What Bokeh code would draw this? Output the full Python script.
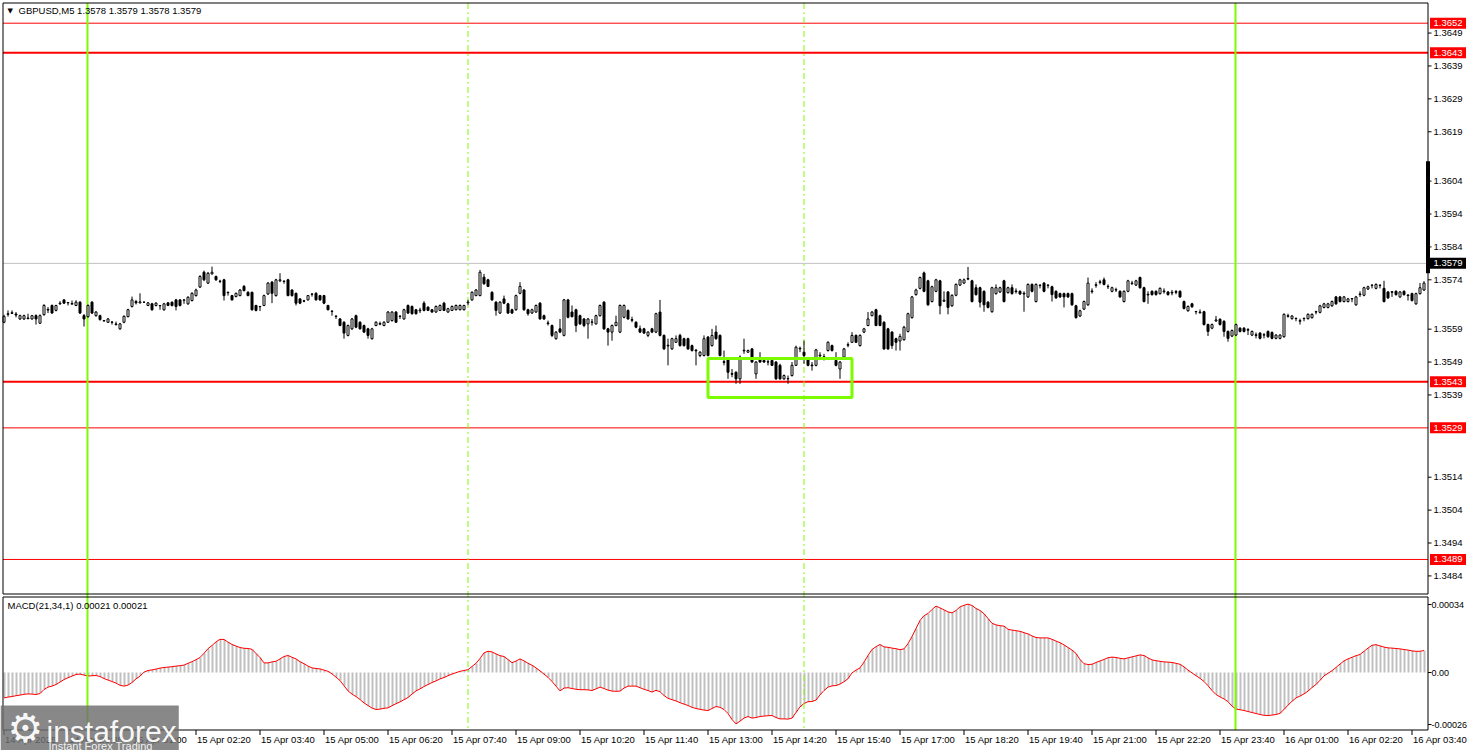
from bokeh.plotting import figure
from bokeh.models import Range1d, Label, ColumnDataSource
from bokeh.core.properties import value
from bokeh.embed import file_html
from bokeh.resources import INLINE

# ---------------- data (prices in pips above 1.3500) ----------------
BASE = 1.35
PIP = 0.0001

open_pips = [
    61.1, 63.5, 63.8, 63.6, 62.1, 62.1, 62.4, 62.1, 63.1, 60.8,
    63.4, 65.0, 66.2, 64.7, 66.7, 67.9, 67.0, 66.6, 66.2, 67.2,
    63.1, 62.8, 67.2, 63.1, 63.1, 61.6, 61.1, 61.2, 60.4, 59.1,
    61.1, 62.8, 65.9, 67.4, 67.0, 67.2, 66.2, 66.7, 66.2, 66.2,
    64.9, 67.0, 67.2, 67.9, 67.9, 67.8, 66.7, 67.7, 69.2, 71.8,
    76.3, 73.0, 75.8, 75.0, 73.5, 74.0, 70.2, 69.2, 68.9, 69.2,
    72.0, 70.2, 70.2, 66.2, 65.9, 66.2, 69.7, 73.3, 69.2, 73.7,
    73.6, 74.0, 70.9, 69.9, 68.2, 67.6, 67.9, 69.6, 69.9, 69.2,
    69.2, 66.2, 64.5, 63.0, 62.1, 61.1, 57.1, 59.1, 63.1, 61.1,
    60.1, 59.1, 56.1, 60.1, 60.5, 60.1, 61.1, 61.6, 64.2, 63.0,
    62.1, 66.2, 65.9, 64.9, 64.6, 66.9, 65.7, 64.9, 64.2, 64.7,
    66.9, 64.2, 64.7, 64.9, 64.9, 64.9, 67.0, 67.9, 69.2, 69.2,
    74.8, 74.0, 70.2, 67.2, 63.9, 68.2, 66.7, 64.9, 64.9, 69.9,
    70.9, 64.9, 63.9, 64.2, 66.9, 63.1, 60.9, 60.1, 56.1, 59.1,
    57.1, 67.9, 64.2, 64.9, 63.1, 62.1, 60.6, 61.1, 60.6, 63.1,
    67.2, 59.1, 58.1, 60.1, 58.1, 62.6, 64.7, 61.9, 61.1, 59.1,
    59.1, 57.1, 59.1, 58.1, 64.2, 57.1, 54.1, 53.0, 55.0, 57.1,
    56.1, 56.1, 54.0, 52.6, 51.0, 51.0, 56.6, 54.0, 58.1, 57.1,
    49.1, 50.0, 45.5, 45.9, 43.9, 52.4, 52.0, 53.0, 45.4, 50.0,
    49.5, 49.0, 49.5, 49.0, 48.0, 43.9, 43.9, 44.9, 48.0, 53.0,
    52.0, 50.0, 48.1, 48.0, 51.1, 50.6, 52.5, 54.0, 49.5, 46.9,
    50.5, 54.1, 55.0, 57.1, 54.0, 58.1, 60.1, 63.1, 64.9, 63.1,
    61.1, 59.1, 58.1, 56.1, 55.4, 55.8, 58.3, 62.5, 69.5, 71.4,
    76.1, 73.7, 67.4, 70.5, 73.7, 67.5, 70.3, 66.1, 69.3, 72.4,
    73.0, 74.2, 73.7, 71.6, 71.6, 70.5, 67.2, 64.3, 69.8, 70.3,
    73.7, 70.1, 71.6, 70.6, 70.5, 69.9, 68.8, 72.6, 67.4, 72.4,
    73.0, 72.3, 71.9, 70.5, 69.8, 69.8, 69.8, 69.8, 66.1, 63.0,
    65.1, 66.4, 70.6, 72.3, 73.2, 74.0, 71.9, 70.5, 70.9, 70.5,
    67.4, 70.5, 73.0, 72.4, 74.7, 71.6, 69.6, 70.5, 70.5, 69.8,
    70.4, 70.3, 70.0, 70.4, 70.5, 67.4, 64.6, 66.7, 64.4, 64.0,
    64.3, 60.4, 59.3, 61.5, 62.0, 61.4, 58.3, 56.9, 57.2, 59.3,
    59.3, 58.9, 57.2, 57.3, 57.8, 57.2, 58.3, 58.0, 56.2, 56.2,
    56.7, 62.9, 62.2, 62.3, 61.4, 62.3, 62.2, 62.5, 64.3, 64.1,
    65.6, 65.6, 66.1, 68.8, 68.8, 67.4, 67.4, 68.3, 66.4, 69.5,
    69.3, 71.2, 72.3, 71.4, 72.4, 71.4, 70.3, 70.2, 70.5, 68.8,
    70.5, 69.4, 69.8, 66.7, 69.8, 70.9,
]

high_pips = [
    63.4, 64.7, 64.7, 64.2, 63.4, 63.4, 63.7, 63.3, 63.5, 63.5,
    66.6, 65.7, 66.5, 66.4, 67.5, 68.1, 67.2, 67.7, 67.8, 67.5,
    63.6, 66.5, 67.5, 64.5, 63.4, 61.8, 62.4, 61.3, 61.3, 60.9,
    63.2, 65.2, 68.9, 67.9, 69.9, 67.4, 67.2, 67.0, 67.2, 66.3,
    67.0, 67.2, 67.4, 68.2, 68.1, 68.0, 69.0, 70.2, 71.3, 75.4,
    76.8, 76.4, 78.0, 75.3, 74.0, 74.3, 70.4, 69.4, 70.1, 71.2,
    72.4, 70.5, 70.4, 66.4, 66.0, 69.5, 73.3, 73.6, 74.3, 76.0,
    73.8, 74.3, 71.1, 70.1, 68.4, 67.9, 69.4, 69.9, 70.2, 69.4,
    69.4, 66.4, 64.7, 63.1, 62.4, 61.4, 60.4, 62.4, 63.4, 61.4,
    60.4, 59.4, 59.4, 61.4, 61.3, 61.4, 64.5, 64.5, 64.5, 63.1,
    65.2, 66.5, 66.2, 65.1, 65.5, 67.5, 65.9, 65.1, 66.2, 66.5,
    67.3, 65.5, 66.2, 66.5, 66.5, 66.4, 67.9, 70.5, 71.2, 77.0,
    75.8, 74.3, 70.5, 67.5, 67.5, 69.2, 67.0, 65.2, 69.5, 73.3,
    71.2, 65.2, 65.2, 66.5, 67.2, 63.4, 61.6, 60.4, 58.4, 62.1,
    68.2, 68.2, 66.2, 65.2, 63.4, 62.4, 62.4, 62.1, 63.4, 66.5,
    67.5, 59.4, 60.4, 63.1, 66.5, 66.5, 65.0, 62.8, 61.4, 60.1,
    59.4, 58.4, 59.4, 64.0, 67.9, 57.4, 56.1, 56.4, 57.1, 57.6,
    56.4, 56.4, 54.3, 53.0, 52.3, 57.1, 56.9, 59.1, 60.1, 57.4,
    52.5, 50.3, 46.9, 46.2, 51.0, 56.1, 52.8, 53.3, 49.3, 52.0,
    49.8, 50.0, 49.8, 49.3, 48.5, 45.2, 44.9, 49.0, 54.0, 53.7,
    55.5, 50.3, 49.0, 53.0, 52.0, 51.5, 55.3, 54.3, 52.0, 49.3,
    53.3, 55.0, 58.1, 57.4, 57.4, 59.4, 64.2, 64.5, 65.2, 63.4,
    61.4, 59.4, 58.4, 56.4, 57.6, 60.0, 64.0, 69.1, 71.3, 75.0,
    76.5, 74.0, 72.2, 74.3, 74.0, 70.5, 70.6, 69.6, 72.9, 74.3,
    74.4, 77.9, 74.0, 72.6, 71.9, 70.8, 67.5, 71.9, 72.6, 71.9,
    74.0, 71.9, 72.6, 71.4, 70.8, 70.5, 72.9, 72.9, 72.9, 72.5,
    73.3, 72.6, 72.2, 70.8, 70.1, 70.1, 70.1, 70.1, 66.4, 64.9,
    67.7, 74.7, 71.4, 73.3, 74.0, 74.7, 72.6, 71.9, 71.6, 70.8,
    70.8, 74.0, 73.7, 74.0, 75.0, 71.9, 70.5, 70.8, 70.8, 71.7,
    71.4, 70.6, 70.9, 70.9, 70.8, 67.7, 66.2, 67.0, 64.5, 65.0,
    64.6, 60.7, 60.7, 63.0, 62.3, 61.7, 58.6, 58.9, 60.7, 59.6,
    59.6, 59.3, 58.6, 58.0, 58.1, 57.8, 58.6, 58.3, 57.5, 57.5,
    63.8, 63.7, 63.3, 62.5, 62.2, 62.5, 63.8, 63.8, 64.6, 66.4,
    67.0, 67.0, 67.7, 69.1, 69.1, 69.1, 68.5, 68.4, 69.1, 70.5,
    71.9, 72.2, 72.6, 72.9, 72.5, 73.7, 70.6, 70.6, 70.8, 70.6,
    70.8, 69.5, 70.1, 70.1, 73.0, 73.6,
]

low_pips = [
    60.8, 62.8, 63.6, 62.6, 61.8, 61.8, 62.0, 61.9, 60.4, 60.6,
    63.1, 63.9, 63.7, 64.4, 66.4, 66.7, 66.2, 66.5, 66.0, 63.6,
    59.8, 62.5, 63.6, 62.8, 61.6, 61.3, 60.9, 60.4, 60.1, 58.8,
    60.8, 62.6, 65.6, 66.5, 66.8, 67.0, 66.0, 64.6, 65.9, 64.9,
    64.6, 66.0, 65.9, 64.7, 65.9, 66.7, 66.4, 67.4, 68.9, 71.5,
    73.6, 72.7, 75.6, 73.7, 73.0, 67.7, 69.2, 67.7, 68.7, 69.0,
    70.5, 69.0, 64.6, 64.4, 64.5, 66.0, 69.4, 66.9, 68.9, 73.3,
    72.8, 69.0, 68.9, 66.2, 66.6, 67.2, 67.7, 68.9, 67.7, 67.6,
    66.6, 64.7, 63.1, 62.1, 59.9, 56.1, 56.8, 58.8, 59.3, 58.9,
    57.8, 56.1, 55.8, 59.9, 60.2, 59.9, 60.9, 61.3, 60.9, 62.1,
    61.9, 63.6, 63.4, 63.4, 63.9, 64.4, 64.5, 64.0, 64.0, 64.5,
    64.5, 64.0, 64.5, 64.7, 64.7, 64.7, 66.2, 67.6, 69.0, 69.0,
    72.5, 71.8, 67.6, 63.1, 63.6, 66.6, 63.6, 63.6, 64.6, 69.6,
    64.6, 63.1, 63.7, 64.0, 61.9, 61.8, 60.1, 56.6, 55.8, 57.8,
    56.8, 62.3, 62.6, 58.1, 60.3, 59.6, 56.1, 60.1, 60.4, 62.8,
    58.8, 54.0, 55.5, 59.9, 57.8, 62.3, 61.9, 61.1, 59.3, 57.8,
    57.6, 56.6, 57.8, 57.8, 56.8, 52.7, 48.0, 52.7, 54.8, 53.7,
    53.7, 52.7, 52.2, 48.0, 50.5, 50.7, 50.7, 53.7, 55.8, 50.7,
    48.0, 43.9, 44.4, 42.4, 42.4, 51.5, 51.8, 48.8, 43.9, 48.8,
    48.8, 48.0, 47.8, 43.6, 43.6, 43.6, 42.4, 44.6, 47.8, 52.0,
    48.5, 47.7, 46.4, 47.7, 50.0, 49.5, 52.2, 52.2, 47.7, 43.9,
    50.2, 53.5, 54.8, 54.8, 53.7, 57.8, 59.9, 62.9, 59.9, 59.9,
    52.7, 52.7, 53.0, 52.5, 52.5, 55.5, 58.0, 62.2, 69.2, 71.1,
    70.2, 66.1, 67.1, 70.2, 63.5, 67.2, 63.5, 65.8, 69.0, 72.1,
    72.8, 73.9, 67.1, 69.2, 65.6, 64.3, 65.3, 64.0, 69.5, 70.0,
    67.1, 69.8, 69.5, 69.8, 69.4, 64.3, 68.5, 70.2, 67.1, 71.4,
    70.2, 71.4, 67.4, 68.2, 68.5, 65.6, 68.5, 66.1, 62.2, 62.7,
    64.8, 66.1, 69.8, 71.6, 72.6, 72.3, 71.2, 70.2, 70.3, 68.5,
    67.1, 70.2, 72.4, 72.1, 71.3, 67.1, 66.7, 69.2, 69.2, 69.5,
    69.8, 69.2, 69.3, 69.6, 68.5, 65.0, 64.3, 65.5, 63.5, 63.7,
    60.1, 56.9, 59.0, 61.2, 60.1, 56.7, 55.2, 56.6, 56.9, 58.0,
    58.0, 57.2, 56.9, 56.2, 55.9, 56.2, 56.4, 55.9, 55.9, 55.9,
    56.4, 62.5, 61.9, 61.4, 60.4, 61.4, 61.9, 62.2, 63.5, 63.8,
    65.3, 65.3, 65.8, 66.4, 67.1, 67.1, 67.1, 67.2, 66.1, 68.8,
    69.0, 70.9, 71.4, 71.1, 71.4, 67.1, 68.2, 68.8, 69.2, 68.5,
    69.2, 67.7, 67.4, 66.4, 69.5, 70.6,
]

close_pips = [
    62.9, 63.7, 64.0, 63.3, 63.1, 63.1, 62.2, 63.1, 62.1, 63.1,
    66.2, 64.8, 63.9, 66.2, 66.9, 66.9, 67.1, 66.8, 67.2, 63.9,
    62.1, 66.2, 63.9, 64.2, 61.9, 61.5, 62.1, 61.1, 60.6, 60.6,
    62.9, 64.9, 67.9, 67.0, 67.3, 67.2, 67.0, 64.9, 66.9, 66.1,
    66.7, 66.2, 66.2, 65.9, 66.2, 67.9, 68.7, 69.9, 70.9, 75.0,
    74.0, 76.0, 76.3, 74.0, 73.6, 69.2, 70.1, 67.9, 69.9, 70.9,
    70.7, 69.2, 64.9, 64.7, 65.8, 69.2, 73.0, 69.9, 74.0, 74.0,
    73.5, 69.2, 69.2, 66.9, 66.9, 67.5, 69.2, 69.7, 67.9, 67.9,
    66.9, 64.9, 64.4, 62.9, 60.1, 57.8, 60.1, 62.1, 59.6, 59.1,
    58.1, 57.1, 59.1, 61.1, 60.7, 61.1, 64.2, 64.2, 61.1, 62.9,
    64.9, 63.9, 63.7, 63.7, 64.8, 64.7, 64.7, 64.2, 65.9, 66.2,
    64.7, 65.2, 65.9, 66.2, 66.2, 66.2, 67.2, 70.2, 70.9, 76.3,
    72.8, 72.0, 67.9, 64.7, 67.2, 66.9, 63.9, 63.9, 69.2, 72.0,
    64.9, 63.7, 64.9, 66.2, 62.1, 62.1, 60.7, 57.1, 58.1, 58.1,
    67.9, 62.6, 62.8, 60.1, 60.6, 60.1, 62.1, 61.2, 63.1, 66.2,
    59.1, 58.1, 60.1, 61.1, 66.2, 66.2, 62.1, 61.7, 59.6, 58.1,
    57.8, 58.1, 58.1, 63.7, 57.1, 53.0, 53.9, 56.1, 56.1, 54.0,
    54.0, 53.0, 52.5, 52.4, 52.0, 56.1, 51.0, 57.1, 56.1, 51.0,
    48.9, 45.9, 45.3, 43.9, 50.5, 52.6, 52.5, 49.0, 49.0, 49.0,
    49.0, 49.1, 48.0, 43.9, 43.9, 44.9, 44.0, 48.0, 53.5, 53.2,
    51.0, 48.0, 47.9, 52.7, 50.9, 50.4, 55.0, 52.5, 48.0, 49.0,
    53.0, 54.3, 57.1, 55.0, 57.1, 59.1, 62.1, 64.2, 60.1, 60.1,
    53.0, 53.0, 54.0, 55.0, 56.8, 59.6, 63.7, 68.8, 70.9, 74.7,
    70.5, 66.4, 71.9, 74.0, 66.1, 67.8, 65.6, 69.3, 72.6, 74.0,
    74.0, 74.4, 67.4, 69.5, 67.2, 66.4, 65.6, 71.6, 71.6, 71.6,
    67.4, 71.6, 69.8, 70.4, 69.7, 69.7, 72.6, 70.5, 72.6, 72.3,
    70.5, 72.4, 69.5, 68.5, 68.8, 68.8, 68.8, 66.4, 62.5, 64.6,
    67.4, 73.0, 70.4, 72.5, 73.4, 72.6, 72.0, 71.6, 71.0, 68.8,
    70.5, 73.7, 72.9, 73.7, 71.6, 67.4, 69.4, 69.5, 69.5, 71.4,
    70.6, 69.5, 70.2, 70.2, 68.8, 65.3, 65.9, 65.8, 64.3, 64.2,
    60.4, 58.3, 60.4, 61.8, 60.4, 58.3, 56.2, 58.6, 60.4, 58.3,
    58.3, 58.7, 58.3, 57.1, 56.2, 57.3, 56.7, 56.2, 57.2, 57.2,
    63.5, 63.1, 63.0, 62.2, 61.6, 62.2, 63.5, 63.5, 64.2, 66.1,
    66.7, 66.7, 67.4, 66.7, 67.4, 68.8, 68.2, 68.2, 68.8, 69.7,
    71.6, 71.9, 72.4, 72.6, 72.3, 67.4, 68.5, 70.4, 69.5, 70.3,
    69.5, 69.2, 67.7, 69.8, 71.6, 73.0,
]

# MACD(21,34,1) main line, in units of 0.00001
macd_e5 = [
    -12.7, -12.3, -12.0, -11.6, -11.3, -10.9, -10.7, -10.8, -11.0, -10.5,
    -8.5, -7.3, -6.8, -6.0, -4.8, -3.5, -2.6, -1.8, -1.0, -0.8,
    -1.3, -1.8, -1.6, -1.5, -2.0, -3.0, -3.8, -4.5, -5.3, -6.4,
    -6.8, -6.3, -5.0, -3.2, -1.8, 0.2, 1.0, 1.3, 1.7, 2.2,
    2.5, 2.7, 2.9, 3.2, 3.4, 3.7, 4.6, 5.4, 6.4, 7.5,
    9.6, 11.9, 13.5, 15.3, 16.6, 16.5, 15.2, 14.0, 13.2, 12.5,
    12.1, 12.0, 11.6, 9.5, 7.5, 4.8, 4.8, 5.3, 5.6, 6.8,
    8.0, 8.5, 7.6, 6.8, 5.4, 4.4, 3.2, 2.3, 2.0, 1.8,
    1.2, 0.6, -0.7, -2.3, -4.0, -6.6, -9.2, -10.8, -12.0, -13.5,
    -15.2, -16.5, -17.8, -18.5, -18.3, -17.9, -17.7, -16.6, -15.6, -14.7,
    -13.6, -12.5, -10.8, -9.2, -8.2, -7.0, -6.0, -5.0, -4.2, -3.2,
    -2.5, -1.6, -0.8, -0.1, 0.6, 1.0, 1.4, 3.0, 4.6, 7.0,
    9.8, 10.6, 10.3, 9.3, 8.4, 8.0, 6.5, 4.9, 5.7, 6.8,
    5.8, 4.6, 3.6, 2.3, 0.8, -0.8, -2.4, -4.5, -6.8, -9.2,
    -7.8, -7.6, -8.0, -8.4, -8.6, -8.6, -8.7, -9.0, -8.2, -7.3,
    -8.0, -8.8, -9.3, -9.4, -9.3, -7.8, -6.8, -6.8, -6.8, -7.6,
    -8.4, -9.0, -9.8, -8.9, -9.6, -11.5, -12.9, -13.6, -14.2, -15.1,
    -15.8, -16.5, -17.4, -18.0, -18.4, -18.8, -19.0, -18.0, -17.0, -17.4,
    -18.5, -20.5, -23.5, -25.7, -24.3, -22.8, -22.0, -22.8, -22.5, -22.0,
    -21.8, -21.6, -21.5, -22.5, -23.2, -23.2, -23.3, -22.8, -20.0, -17.2,
    -15.5, -14.6, -14.5, -13.8, -11.2, -9.0, -7.3, -6.7, -6.5, -5.8,
    -4.6, -3.1, -0.2, 1.2, 2.3, 5.2, 8.5, 11.5, 12.9, 14.0,
    12.8, 12.6, 12.2, 11.9, 11.4, 11.8, 14.4, 18.0, 22.0, 26.0,
    28.4, 29.5, 31.5, 33.2, 32.3, 31.3, 30.3, 29.8, 31.0, 32.8,
    33.6, 34.2, 33.5, 32.0, 31.0, 29.4, 27.0, 24.6, 23.8, 23.4,
    23.2, 21.6, 21.2, 20.9, 20.6, 19.9, 19.3, 18.3, 17.5, 17.3,
    17.3, 17.3, 16.6, 15.7, 14.9, 13.8, 12.5, 11.2, 9.5, 6.5,
    4.4, 4.0, 4.1, 5.0, 5.8, 6.5, 7.4, 7.7, 7.5, 7.1,
    6.8, 7.3, 7.8, 8.3, 8.8, 8.5, 7.3, 6.3, 5.9, 5.6,
    5.3, 5.2, 5.0, 4.6, 4.1, 2.8, 1.2, -0.2, -1.6, -2.9,
    -4.5, -6.6, -9.0, -11.0, -12.2, -13.2, -14.6, -16.8, -18.3, -18.6,
    -19.0, -19.5, -20.0, -20.5, -21.0, -21.4, -21.5, -21.3, -21.0, -20.4,
    -18.5, -16.3, -14.4, -12.7, -11.8, -10.7, -9.3, -7.5, -6.0, -3.9,
    -1.7, -0.4, 0.9, 2.5, 4.2, 5.8, 6.8, 7.6, 8.4, 9.0,
    10.6, 12.2, 13.6, 13.9, 13.3, 12.7, 12.3, 12.2, 12.0, 11.8,
    11.5, 11.2, 10.8, 10.6, 10.6, 11.0,
]

price_ticks = [1.3649, 1.3639, 1.3629, 1.3619, 1.3604, 1.3594, 1.3584, 1.3574,
               1.3559, 1.3549, 1.3539, 1.3514, 1.3504, 1.3494, 1.3484]
price_tick_labels = ["1.3649", "1.3639", "1.3629", "1.3619", "1.3604", "1.3594",
                     "1.3584", "1.3574", "1.3559", "1.3549", "1.3539", "1.3514",
                     "1.3504", "1.3494", "1.3484"]
level_prices = [1.3652, 1.3643, 1.3543, 1.3529, 1.3489]
level_labels = ["1.3652", "1.3643", "1.3543", "1.3529", "1.3489"]
level_widths = [1, 2, 2, 1, 1]
bid_price = 1.3579
bid_label = "1.3579"
axis_marker = [1.3576, 1.3610]

time_tick_bars = [0, 16, 32, 48, 64, 80, 96, 112, 128, 144, 160, 176, 192,
                  208, 224, 240, 256, 272, 288, 304, 320, 336, 352]
time_tick_labels = ["14 Apr 2025", "14 Apr 23:35", "15 Apr 01:00", "15 Apr 02:20",
                    "15 Apr 03:40", "15 Apr 05:00", "15 Apr 06:20", "15 Apr 07:40",
                    "15 Apr 09:00", "15 Apr 10:20", "15 Apr 11:40", "15 Apr 13:00",
                    "15 Apr 14:20", "15 Apr 15:40", "15 Apr 17:00", "15 Apr 18:20",
                    "15 Apr 19:40", "15 Apr 21:00", "15 Apr 22:20", "15 Apr 23:40",
                    "16 Apr 01:00", "16 Apr 02:20", "16 Apr 03:40"]
day_sep_bars = [21, 308]
dashed_bars = [116, 200]
zone_bars = [176, 212]
zone_prices = [1.35382, 1.35501]
macd_ticks = [34, 0, -26]
macd_tick_labels = ["0.00034", "0.00", "-0.00026"]

# ---------------- layout helpers (page pixels -> data) ----------------
W, H = 1468, 750
FONT = "Liberation Sans"
FS = "9.5px"
FS_MACD = "9px"
LIME = "#7CFC00"


def px_to_x(px):
    return (px - 3.5) / 4.0


def py_to_price(py):
    return BASE + (43.0 + (381.3 - py) / 3.29) * PIP


def py_to_macd(py):
    return (672.0 - py) / 2.0


X_LEFT = px_to_x(2.5)      # left border of the chart panels
X_RIGHT = px_to_x(1427.5)  # right border / price axis
MAIN_TOP, MAIN_BOT = py_to_price(2.5), py_to_price(593.5)
MACD_TOP, MACD_BOT = py_to_macd(596.5), py_to_macd(729.5)

p = figure(width=W, height=H, x_range=Range1d(px_to_x(0), px_to_x(W)),
           y_range=Range1d(py_to_price(H), py_to_price(0)),
           output_backend="svg", toolbar_location=None, tools="",
           x_axis_location=None, y_axis_location=None,
           min_border_left=0, min_border_right=0, min_border_top=0,
           min_border_bottom=0, background_fill_color="white",
           border_fill_color="white", outline_line_color=None)
p.grid.visible = False
p.extra_y_ranges = {"macd": Range1d(py_to_macd(H), py_to_macd(0))}

n = len(close_pips)
xs = list(range(n))
o = [BASE + v * PIP for v in open_pips]
hi = [BASE + v * PIP for v in high_pips]
lo = [BASE + v * PIP for v in low_pips]
c = [BASE + v * PIP for v in close_pips]

# ---- horizontal levels (stop at the price axis) ----
for lvl, w in zip(level_prices, level_widths):
    p.segment(x0=[X_LEFT], y0=[lvl], x1=[X_RIGHT], y1=[lvl], line_color="#FF0000",
              line_width=w)
p.segment(x0=[X_LEFT], y0=[bid_price], x1=[X_RIGHT], y1=[bid_price],
          line_color="#C0C0C0", line_width=1)

# ---- MACD histogram + line ----
msrc = ColumnDataSource(dict(x=[v + 0.125 for v in xs], xl=xs, v=macd_e5,
                             z=[0] * n))
p.segment(x0="x", y0="z", x1="x", y1="v", source=msrc, line_color="#C0C0C0",
          line_width=2, y_range_name="macd")
p.line(x="xl", y="v", source=msrc, line_color="#FF0000", line_width=1,
       y_range_name="macd")

# ---- vertical lines across both panels ----
for b in day_sep_bars:
    p.segment(x0=[b - 0.125], y0=[MAIN_TOP], x1=[b - 0.125], y1=[py_to_price(729.5)],
              line_color=LIME, line_width=2)
for b in dashed_bars:
    p.segment(x0=[b], y0=[MAIN_TOP], x1=[b], y1=[py_to_price(729.5)],
              line_color=LIME, line_width=1, line_dash="6 3 2 3")

# ---- candles ----
src = ColumnDataSource(dict(
    x=xs, h=hi, l=lo,
    top=[max(a, b) for a, b in zip(o, c)],
    bot=[min(a, b) for a, b in zip(o, c)],
    body_color=["white" if cc >= oo else "black" for oo, cc in zip(o, c)],
))
p.segment(x0="x", y0="h", x1="x", y1="l", source=src, line_color="black",
          line_width=1)
p.vbar(x="x", width=0.5, top="top", bottom="bot", source=src,
       fill_color="body_color", line_color="black", line_width=1)

# ---- highlighted zone ----
p.quad(left=[zone_bars[0]], right=[zone_bars[1]], bottom=[zone_prices[0]],
       top=[zone_prices[1]], fill_alpha=0, line_color=LIME, line_width=3)

# ---- panel borders ----
p.quad(left=[X_LEFT], right=[X_RIGHT], top=[MAIN_TOP], bottom=[MAIN_BOT],
       fill_alpha=0, line_color="black", line_width=1)
p.quad(left=[X_LEFT], right=[X_RIGHT], top=[MACD_TOP], bottom=[MACD_BOT],
       fill_alpha=0, line_color="black", line_width=1, y_range_name="macd")

# ---- thick marker on the price axis ----
p.segment(x0=[X_RIGHT], y0=[axis_marker[0]], x1=[X_RIGHT], y1=[axis_marker[1]],
          line_color="black", line_width=4)

# ---- price axis ticks + labels ----
tick_len = px_to_x(1431) - px_to_x(1427.5)
p.segment(x0=[X_RIGHT] * len(price_ticks), y0=price_ticks,
          x1=[X_RIGHT + tick_len] * len(price_ticks), y1=price_ticks,
          line_color="black", line_width=1)
p.text(x=[px_to_x(1433)] * len(price_ticks), y=price_ticks, text=price_tick_labels,
       text_font=value(FONT), text_font_size=value(FS), text_color="black",
       text_baseline="middle", text_align="left")

# red level boxes and the black bid box
p.rect(x=[px_to_x(1447.5)] * len(level_prices), y=level_prices, width=36,
       height=11, width_units="screen", height_units="screen",
       fill_color="#FF0000", line_color=None)
p.text(x=[px_to_x(1433)] * len(level_prices), y=level_prices, text=level_labels,
       text_font=value(FONT), text_font_size=value(FS), text_color="white",
       text_baseline="middle", text_align="left")
p.rect(x=[px_to_x(1447.5)], y=[bid_price], width=36, height=11,
       width_units="screen", height_units="screen", fill_color="black",
       line_color=None)
p.text(x=[px_to_x(1433)], y=[bid_price], text=[bid_label], text_font=value(FONT),
       text_font_size=value(FS), text_color="white", text_baseline="middle",
       text_align="left")

# ---- MACD axis ticks + labels ----
p.segment(x0=[X_RIGHT] * 3, y0=macd_ticks, x1=[X_RIGHT + tick_len] * 3,
          y1=macd_ticks, line_color="black", line_width=1, y_range_name="macd")
p.text(x=[px_to_x(1431)] * 3, y=macd_ticks, text=macd_tick_labels,
       text_font=value(FONT), text_font_size=value(FS_MACD), text_color="black",
       text_baseline="middle", text_align="left", y_range_name="macd")

# ---- time axis ticks + labels ----
tb = len(time_tick_bars)
p.segment(x0=time_tick_bars, y0=[MACD_BOT] * tb, x1=time_tick_bars,
          y1=[py_to_macd(734.5)] * tb, line_color="black", line_width=1,
          y_range_name="macd")
p.text(x=time_tick_bars, y=[py_to_macd(738.5)] * tb, text=time_tick_labels,
       x_offset=1, text_font=value(FONT), text_font_size=value(FS),
       text_color="black", text_baseline="middle", text_align="left",
       y_range_name="macd")

# ---- panel titles ----
p.add_layout(Label(x=7, y=H - 10, x_units="screen", y_units="screen",
                   text="\u25BC", text_font="DejaVu Sans", text_font_size="7px",
                   text_baseline="middle", text_color="black"))
p.add_layout(Label(x=18, y=H - 10, x_units="screen", y_units="screen",
                   text="GBPUSD,M5  1.3578 1.3579 1.3578 1.3579",
                   text_font=FONT, text_font_size=FS,
                   text_baseline="middle", text_color="black"))
p.add_layout(Label(x=7, y=H - 605, x_units="screen", y_units="screen",
                   text="MACD(21,34,1) 0.00021 0.00021", text_font=FONT,
                   text_font_size=FS, text_baseline="middle",
                   text_color="black"))

# ---- watermark ----
p.add_layout(Label(x=0, y=0, x_units="screen", y_units="screen", text=" ",
                   text_font_size="1px", background_fill_color="#6e6e6e",
                   background_fill_alpha=0.82,
                   padding=dict(left=0, right=178, top=44, bottom=0)))
p.add_layout(Label(x=25, y=H - 727, x_units="screen", y_units="screen",
                   text="\u2699", text_font="DejaVu Sans", text_font_size="40px",
                   text_color="white", text_align="center",
                   text_baseline="middle", text_alpha=0.95))
p.add_layout(Label(x=46, y=H - 731, x_units="screen", y_units="screen",
                   text="instaforex", text_font=FONT, text_font_size="30px",
                   text_color="white", text_baseline="alphabetic",
                   text_alpha=0.95))
p.add_layout(Label(x=48, y=H - 745, x_units="screen", y_units="screen",
                   text="Instant Forex Trading", text_font=FONT,
                   text_font_size="11px", text_color="white",
                   text_baseline="alphabetic", text_alpha=0.9))

open("out.html", "w").write(file_html(p, INLINE))
